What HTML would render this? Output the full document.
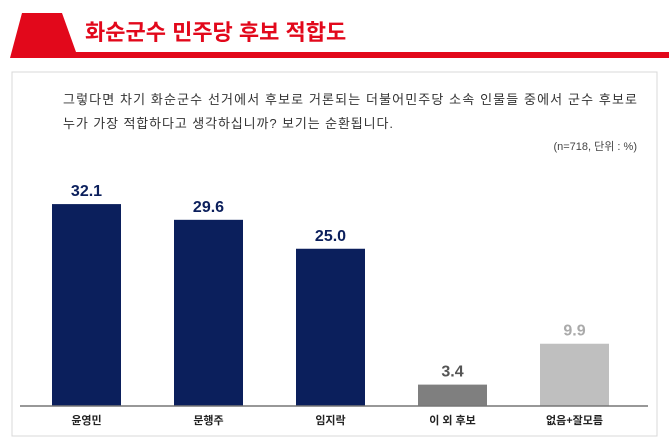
<!DOCTYPE html>
<html><head><meta charset="utf-8"><style>
body{margin:0;width:669px;height:443px;background:#fff;overflow:hidden;font-family:"Liberation Sans","Noto Sans CJK KR",sans-serif;position:relative}
.abs{position:absolute}
</style></head><body>
<svg class="abs" style="left:0;top:0" width="669" height="443">
  <polygon points="10,58 22,13 62,13 76,52 669,52 669,58" fill="#e2081b"/>
  <rect x="12" y="72" width="645" height="364" fill="none" stroke="#d8d8d8"/>
  <text x="85" y="40" font-size="22" font-weight="bold" fill="#e2081b">화순군수  민주당  후보  적합도</text>
  <text x="63" y="104" font-size="13" fill="#333" textLength="574" lengthAdjust="spacing">그렇다면 차기 화순군수 선거에서 후보로 거론되는 더불어민주당 소속 인물들 중에서 군수 후보로</text>
  <text x="63" y="128" font-size="13" fill="#333" textLength="330" lengthAdjust="spacing">누가 가장 적합하다고 생각하십니까? 보기는 순환됩니다.</text>
  <text x="637" y="150" font-size="11" fill="#444" text-anchor="end">(n=718, 단위 : %)</text>
  <g id="bars"></g>
  <line x1="20" y1="406" x2="648" y2="406" stroke="#777" stroke-width="1.5"/>
</svg>
<script>
const categories=["윤영민","문행주","임지락","이 외 후보","없음+잘모름"];
const values=[32.1,29.6,25.0,3.4,9.9];
const colors=["#0b1f5c","#0b1f5c","#0b1f5c","#7f7f7f","#bfbfbf"];
const labelColors=["#0b1f5c","#0b1f5c","#0b1f5c","#555","#aaa"];
const base=406, scale=6.29, x0=52, step=122, bw=69;
const g=document.getElementById('bars');
const ns="http://www.w3.org/2000/svg";
function y(v){return base-v*scale;}
categories.forEach((c,i)=>{
  const x=x0+i*step;
  const r=document.createElementNS(ns,'rect');
  r.setAttribute('x',x);r.setAttribute('y',y(values[i]));r.setAttribute('width',bw);r.setAttribute('height',base-y(values[i]));r.setAttribute('fill',colors[i]);
  
  
  g.appendChild(r);
  const t=document.createElementNS(ns,'text');
  t.setAttribute('x',x+bw/2);t.setAttribute('y',y(values[i])-8);t.setAttribute('text-anchor','middle');t.setAttribute('font-size','16');t.setAttribute('font-weight','bold');t.setAttribute('fill',labelColors[i]);
  t.textContent=values[i].toFixed(1);
  
  
  g.appendChild(t);
  const l=document.createElementNS(ns,'text');
  l.setAttribute('x',x+bw/2);l.setAttribute('y',424);l.setAttribute('text-anchor','middle');l.setAttribute('font-size','11');l.setAttribute('font-weight','bold');l.setAttribute('fill','#222');
  l.textContent=c;
  
  
  g.appendChild(l);
});
</script>
</body></html>
